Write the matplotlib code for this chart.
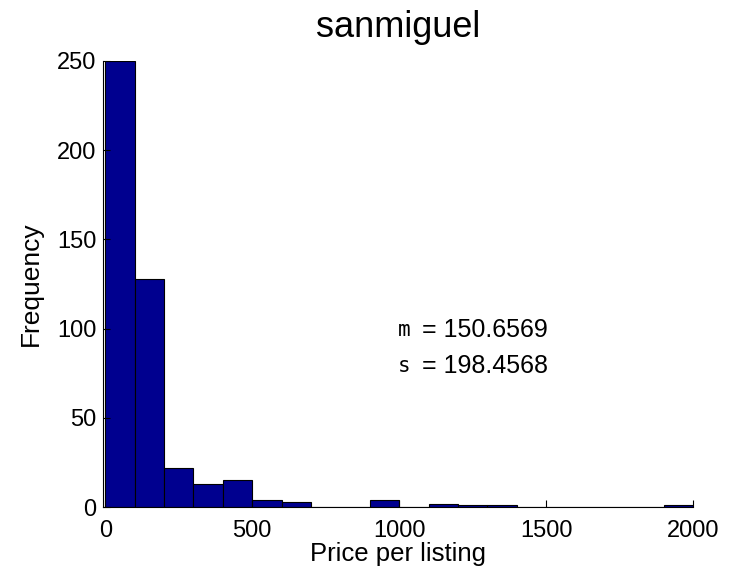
import matplotlib.pyplot as plt

# histogram of prices, bins of width 100 from 0 to 2000
bin_left = list(range(0, 2000, 100))
counts = [250, 128, 22, 13, 15, 4, 3, 0, 0, 4,
          0, 2, 1, 1, 0, 0, 0, 0, 0, 1]

mean_txt = '150.6569'
std_txt = '198.4568'

plt.rcParams['font.family'] = ['Liberation Sans', 'DejaVu Sans']

fig = plt.figure(figsize=(7.42, 5.73), dpi=100)
ax = fig.add_axes([0.139, 0.115, 0.795, 0.779])

ax.bar(bin_left, counts, width=100, align='edge',
       color='#00008F', edgecolor='black', linewidth=0.8)

ax.set_xlim(-7, 2000)
ax.set_ylim(0, 250)
ax.set_xticks([0, 500, 1000, 1500, 2000])
ax.set_yticks([0, 50, 100, 150, 200, 250])
ax.tick_params(direction='in', labelsize=17, length=5, width=0.8)
ax.tick_params(axis='x', pad=9)
ax.tick_params(axis='y', pad=5)
ax.spines['top'].set_visible(False)
ax.spines['right'].set_visible(False)

ax.set_title('sanmiguel', fontsize=26, pad=17)
ax.set_xlabel('Price per listing', fontsize=18.5, labelpad=0)
ax.set_ylabel('Frequency', fontsize=19, labelpad=10)

# statistics text
ax.text(997, 99, 'm', fontsize=15, family='DejaVu Sans Mono', va='center',
        fontweight='light')
ax.text(1078, 99, '= ' + mean_txt, fontsize=18, va='center')
ax.text(997, 79, 's', fontsize=15, family='DejaVu Sans Mono', va='center',
        fontweight='light')
ax.text(1078, 79, '= ' + std_txt, fontsize=18, va='center')

plt.savefig('out.png', dpi=100)
